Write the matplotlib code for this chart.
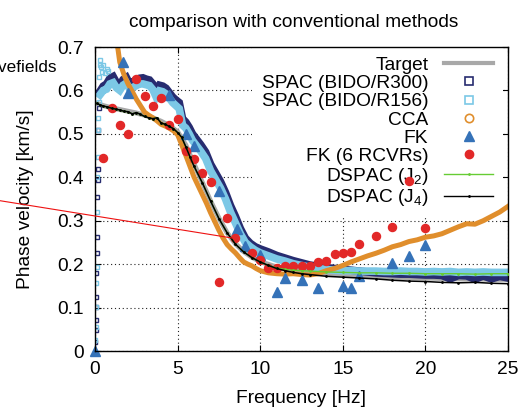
import matplotlib
matplotlib.use("Agg")
import matplotlib.pyplot as plt
from matplotlib.lines import Line2D

plt.rcParams['font.family'] = ['Liberation Sans', 'DejaVu Sans']
plt.rcParams['mathtext.fontset'] = 'custom'
plt.rcParams['mathtext.rm'] = 'Liberation Sans'
plt.rcParams['mathtext.default'] = 'regular'

# ---------------- data ----------------
target_f = [0, 0.5, 1, 1.5, 2, 2.5, 3, 3.5, 4, 4.5, 5, 5.5, 6, 6.5, 7, 7.5, 8, 8.5, 9, 9.5,
            10, 11, 12, 13, 14, 15, 16, 17, 18, 19, 20, 21, 22, 23, 24, 25]
target_v = [0.572, 0.565, 0.56, 0.556, 0.552, 0.548, 0.543, 0.537, 0.529, 0.519, 0.505, 0.474,
            0.43, 0.388, 0.345, 0.306, 0.272, 0.247, 0.229, 0.216, 0.206, 0.193, 0.186, 0.181,
            0.178, 0.176, 0.174, 0.172, 0.17, 0.169, 0.168, 0.167, 0.166, 0.166, 0.165, 0.165]

spac_f = [0.3, 0.5, 0.7, 0.9, 1.1, 1.3, 1.5, 1.7, 1.9, 2.1, 2.3, 2.5, 2.7, 2.9, 3.1, 3.3, 3.5,
          3.7, 3.9, 4.1, 4.3, 4.5, 4.7, 4.9, 5.1, 5.3, 5.5, 5.7, 5.9, 6.1,
          6.4, 6.7, 7.0, 7.3, 7.6, 7.9, 8.2, 8.5, 8.8, 9.1, 9.4, 9.7, 10.0,
          10.5, 11, 11.5, 12, 12.5, 13, 13.5, 14, 14.5, 15, 15.5, 16, 16.5, 17, 17.5, 18,
          18.5, 19, 19.5, 20, 20.5, 21, 21.5, 22, 22.5, 23, 23.5, 24, 24.5, 25]
spac300_v = [0.598, 0.61, 0.615, 0.628, 0.632, 0.618, 0.612, 0.625, 0.63, 0.615, 0.62, 0.625,
             0.628, 0.629, 0.626, 0.624, 0.615, 0.598, 0.612, 0.61, 0.605, 0.595, 0.585, 0.578,
             0.572, 0.535, 0.527, 0.515, 0.5, 0.49,
             0.475, 0.458, 0.43, 0.41, 0.39, 0.365, 0.335, 0.31, 0.282, 0.26, 0.248, 0.24, 0.235,
             0.228, 0.22, 0.214, 0.208, 0.203, 0.198, 0.195, 0.192, 0.19, 0.188, 0.186, 0.184,
             0.182, 0.18, 0.179, 0.178, 0.177, 0.177, 0.176, 0.175, 0.175, 0.174, 0.166, 0.174,
             0.173, 0.165, 0.173, 0.166, 0.172, 0.168]
spac156_v = [0.59, 0.6, 0.603, 0.615, 0.618, 0.606, 0.6, 0.612, 0.617, 0.603, 0.607, 0.611,
             0.615, 0.615, 0.613, 0.611, 0.602, 0.585, 0.599, 0.597, 0.592, 0.582, 0.572, 0.565,
             0.558, 0.52, 0.513, 0.5, 0.485, 0.475,
             0.46, 0.443, 0.415, 0.395, 0.375, 0.35, 0.32, 0.295, 0.27, 0.25, 0.24, 0.232, 0.226,
             0.219, 0.212, 0.207, 0.201, 0.197, 0.193, 0.19, 0.188, 0.186, 0.185, 0.185, 0.184,
             0.184, 0.184, 0.183, 0.183, 0.184, 0.183, 0.183, 0.182, 0.183, 0.182, 0.183, 0.181,
             0.182, 0.181, 0.182, 0.181, 0.181, 0.181]

# scattered SPAC estimates at the lowest frequencies
spac300_low_f = [0.03, 0.04, 0.05, 0.06, 0.07, 0.08, 0.1, 0.12, 0.14, 0.16, 0.18, 0.2, 0.22, 0.25]
spac300_low_v = [0.021, 0.048, 0.071, 0.102, 0.125, 0.18, 0.225, 0.263, 0.355, 0.394, 0.42,
                 0.509, 0.559, 0.593]
spac156_low_f = [0.03, 0.05, 0.06, 0.08, 0.1, 0.12, 0.14, 0.16, 0.18, 0.2, 0.22, 0.25, 0.28,
                 0.3, 0.35, 0.4, 0.5, 0.6, 0.7, 0.8]
spac156_low_v = [0.025, 0.056, 0.102, 0.156, 0.194, 0.321, 0.401, 0.447, 0.536, 0.509, 0.574,
                 0.632, 0.659, 0.67, 0.655, 0.643, 0.659, 0.64, 0.65, 0.645]

cca_f = [1.3, 1.5, 1.75, 2.0, 2.25, 2.5, 2.75, 3.0, 3.25, 3.5, 3.75, 4.0, 4.25, 4.5, 4.75, 5.0,
         5.25, 5.5, 5.75, 6.0, 6.25, 6.5, 6.75, 7.0, 7.25, 7.5, 7.75, 8.0, 8.25, 8.5, 8.75, 9.0,
         9.25, 9.5, 9.75, 10, 10.5, 11, 11.5, 12, 12.5, 13, 13.5, 14, 14.5, 15, 15.5, 16, 16.5,
         17, 17.5, 18, 18.5, 19, 19.5, 20, 20.5, 21, 21.5, 22, 22.5, 23, 23.5, 24, 24.5, 25]
cca_v = [0.72, 0.665, 0.637, 0.615, 0.598, 0.58, 0.565, 0.55, 0.543, 0.537, 0.53, 0.522, 0.518,
         0.513, 0.507, 0.498, 0.475, 0.45, 0.425, 0.4, 0.38, 0.36, 0.34, 0.318, 0.298, 0.278,
         0.26, 0.245, 0.235, 0.226, 0.215, 0.205, 0.2, 0.196, 0.19, 0.185, 0.18, 0.178, 0.177,
         0.178, 0.176, 0.175, 0.178, 0.185, 0.19, 0.197, 0.205, 0.212, 0.219, 0.225, 0.232,
         0.24, 0.245, 0.252, 0.256, 0.262, 0.265, 0.27, 0.278, 0.286, 0.293, 0.292, 0.3, 0.31,
         0.32, 0.333]

fk_f = [0, 1.7, 2.0, 4.5, 5.5, 6.0, 7.5, 8.6, 9.1, 10.0, 11.0, 11.5, 12.5, 13.5, 15.0, 15.5,
        16.0, 18.0, 19.0, 20.0]
fk_v = [0, 0.665, 0.593, 0.59, 0.5, 0.473, 0.369, 0.281, 0.241, 0.221, 0.135, 0.167, 0.164,
        0.145, 0.149, 0.145, 0.172, 0.203, 0.219, 0.243]

fk6_f = [0.5, 1.0, 1.5, 2.0, 2.5, 3.0, 3.5, 4.0, 4.5, 5.0, 5.5, 6.0, 6.5, 7.0, 7.5, 8.0, 8.5,
         9.5, 10, 10.5, 11, 11.5, 12, 12.5, 13, 13.5, 14, 14.5, 15, 15.5, 16, 17, 18, 19, 20]
fk6_v = [0.445, 0.56, 0.52, 0.5, 0.626, 0.588, 0.563, 0.582, 0.52, 0.535, 0.46, 0.442, 0.41,
         0.388, 0.158, 0.307, 0.261, 0.226, 0.21, 0.191, 0.191, 0.195, 0.195, 0.196, 0.195,
         0.205, 0.208, 0.223, 0.226, 0.229, 0.247, 0.265, 0.286, 0.391, 0.283]

dspac_f = [0.1, 0.3, 0.5, 0.75, 1.0, 1.25, 1.5, 1.75, 2.0, 2.25, 2.5, 2.75, 3.0, 3.25, 3.5, 3.75,
           4.0, 4.25, 4.5, 4.75, 5.0, 5.25, 5.5, 5.75, 6.0, 6.5, 7.0, 7.5, 8.0, 8.5, 9.0, 9.5,
           10, 10.5, 11, 11.5, 12, 12.5, 13, 14, 15, 16, 17, 18, 19, 20, 21, 22, 23, 24, 25]
dspac_j4_v = [0.57, 0.567, 0.564, 0.562, 0.559, 0.557, 0.555, 0.552, 0.551, 0.546, 0.549, 0.545,
              0.54, 0.537, 0.535, 0.537, 0.525, 0.522, 0.517, 0.512, 0.503, 0.492, 0.47, 0.447,
              0.425, 0.387, 0.345, 0.305, 0.272, 0.246, 0.228, 0.215, 0.205, 0.197, 0.19, 0.185,
              0.181, 0.178, 0.176, 0.172, 0.17, 0.168, 0.166, 0.163, 0.161, 0.16, 0.158, 0.157,
              0.158, 0.156, 0.155]
dspac_j2_v = [0.57, 0.567, 0.564, 0.562, 0.559, 0.557, 0.555, 0.552, 0.551, 0.546, 0.549, 0.545,
              0.54, 0.537, 0.535, 0.537, 0.525, 0.522, 0.517, 0.512, 0.503, 0.492, 0.47, 0.447,
              0.425, 0.387, 0.345, 0.305, 0.272, 0.246, 0.228, 0.215, 0.205, 0.197, 0.191, 0.188,
              0.186, 0.185, 0.184, 0.182, 0.181, 0.18, 0.18, 0.179, 0.179, 0.178, 0.178, 0.178,
              0.177, 0.178, 0.178]

x_ticks = [0, 5, 10, 15, 20, 25]
y_ticks = [0, 0.1, 0.2, 0.3, 0.4, 0.5, 0.6, 0.7]
y_tick_labels = ['0', '0.1', '0.2', '0.3', '0.4', '0.5', '0.6', '0.7']

labels = ['Target', 'SPAC (BIDO/R300)', 'SPAC (BIDO/R156)', 'CCA', 'FK', 'FK (6 RCVRs)',
          'DSPAC (J$_2$)', 'DSPAC (J$_4$)']

# ---------------- colours ----------------
c_target = '#a8a8a8'
c_r300 = '#272c70'
c_r156 = '#7cc8e6'
c_cca = '#e08e2c'
c_fk = '#3572b8'
c_fk6 = '#e22828'
c_j2 = '#66cc33'
c_j4 = '#000000'

W, H = 531, 411
fig = plt.figure(figsize=(W / 100, H / 100), dpi=100)
ax = fig.add_axes([95 / W, 1 - 351 / H, 413 / W, 304 / H])

FS = 13.8

ax.plot(target_f, target_v, color=c_target, lw=3.6, zorder=2, solid_capstyle='butt')
ax.plot(spac_f, spac300_v, color=c_r300, lw=5.5, zorder=2.1, solid_joinstyle='miter')
ax.plot(spac300_low_f, spac300_low_v, ls='none', marker='s', ms=3.2, mfc='none', mec=c_r300,
        mew=1.0, zorder=2.1)
ax.plot(spac_f, spac156_v, color=c_r156, lw=5.5, zorder=2.2, solid_joinstyle='miter')
ax.plot(spac156_low_f, spac156_low_v, ls='none', marker='s', ms=3.2, mfc='none', mec=c_r156,
        mew=1.0, zorder=2.2)
ax.plot(cca_f, cca_v, color=c_cca, lw=3.6, zorder=2.3)
ax.plot(fk_f, fk_v, ls='none', marker='^', ms=6.5, color=c_fk, zorder=2.4, clip_on=False)
ax.plot(fk6_f, fk6_v, ls='none', marker='o', ms=5.8, color=c_fk6, zorder=2.5)
ax.plot(dspac_f, dspac_j2_v, color=c_j2, lw=1.0, marker='.', ms=2, zorder=2.6)
ax.plot(dspac_f, dspac_j4_v, color=c_j4, lw=1.1, marker='.', ms=2, zorder=2.7)

ax.set_xlim(0, 25)
ax.set_ylim(0, 0.7)
ax.set_xticks(x_ticks)
ax.set_xticklabels([str(t) for t in x_ticks])
ax.set_yticks(y_ticks)
ax.set_yticklabels(y_tick_labels)
ax.tick_params(direction='in', length=4.5, width=0.8, top=True, right=True, labelsize=FS)
ax.tick_params(axis='x', pad=7)
ax.tick_params(axis='y', pad=8)
ax.set_axisbelow(True)
ax.grid(True, color='#222222', lw=0.8, ls=(0, (1, 2.5)))
for s in ax.spines.values():
    s.set_linewidth(1.0)

ax.set_xlabel('Frequency [Hz]', fontsize=FS, labelpad=9)
ax.set_ylabel('Phase velocity [km/s]', fontsize=FS, labelpad=17)

handles = [
    Line2D([], [], color=c_target, lw=3.0),
    Line2D([], [], ls='none', marker='s', ms=6, mfc='none', mec=c_r300, mew=1.2),
    Line2D([], [], ls='none', marker='s', ms=6, mfc='none', mec=c_r156, mew=1.2),
    Line2D([], [], ls='none', marker='o', ms=6, mfc='none', mec=c_cca, mew=1.2),
    Line2D([], [], ls='none', marker='^', ms=6.5, color=c_fk),
    Line2D([], [], ls='none', marker='o', ms=6, color=c_fk6),
    Line2D([], [], color=c_j2, lw=1.0, marker='.', ms=2, markevery=[1]),
    Line2D([], [], color=c_j4, lw=1.0, marker='.', ms=2, markevery=[1]),
]
leg = ax.legend(handles, labels, loc='upper right', bbox_to_anchor=((503 - 95) / 413, 1.0),
                markerfirst=False, frameon=True, fontsize=FS, handlelength=2.6,
                handletextpad=0.8, labelspacing=0.04, borderpad=0.5, borderaxespad=0,
                numpoints=1)
leg.get_frame().set_facecolor('white')
leg.get_frame().set_edgecolor('none')
leg.get_frame().set_alpha(1.0)
leg.get_frame().set_boxstyle('square', pad=0)
leg.set_zorder(1.5)
for t in leg.get_texts():
    t.set_ha('right')
leg._legend_box.align = 'right'

fig.text(294 / W, 1 - 27 / H, 'comparison with conventional methods', ha='center',
         va='baseline', fontsize=FS)
fig.text(57 / W, 1 - 72 / H, 'wavefields', ha='right', va='baseline', fontsize=12.3)
fig.add_artist(Line2D([0, 232 / W], [1 - 200.7 / H, 1 - 238 / H], color='#ee1111', lw=0.8,
                      transform=fig.transFigure, zorder=5))

fig.savefig('out.png', dpi=100)
